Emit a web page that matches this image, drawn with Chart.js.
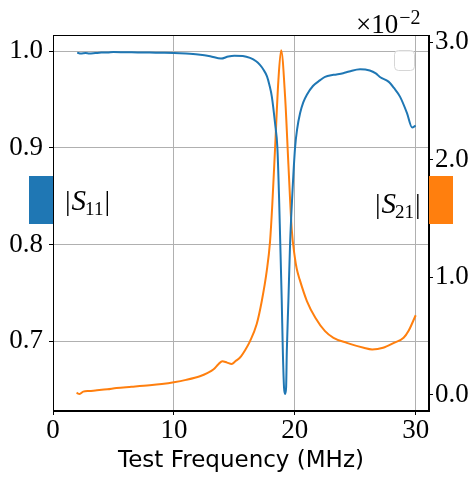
<!DOCTYPE html>
<html><head><meta charset="utf-8">
<script src="https://cdn.jsdelivr.net/npm/chart.js@4"></script>
<style>html,body{margin:0;padding:0;background:#fff;overflow:hidden;}</style>
</head><body>
<canvas id="c" width="473" height="479"></canvas>
<script>
const freqS11 = [2.0,2.3,2.7,3.0,3.5,4.0,4.5,5.0,6.0,7.0,8.0,9.0,10.0,11.0,12.0,13.0,13.9,14.5,15.0,15.7,16.3,16.8,17.1,17.4,17.7,17.9,18.1,18.37,18.56,18.70,18.78,18.92,19.01,19.11,19.20,19.28,19.34,19.47,19.61,19.78,20.02,20.2,20.44,20.7,21.0,21.5,22.1,22.5,23.2,24.0,24.5,25.4,26.2,26.7,27.07,27.75,28.2,28.7,29.28,29.7,30.0];
const s11 = [0.9985,0.9975,0.998,0.9975,0.998,0.9985,0.9985,0.999,0.9988,0.9987,0.9985,0.9984,0.9982,0.9976,0.9966,0.9948,0.9923,0.9945,0.9953,0.9950,0.9930,0.9895,0.986,0.981,0.974,0.965,0.953,0.925,0.900,0.848,0.810,0.742,0.690,0.652,0.6456,0.652,0.690,0.742,0.801,0.848,0.900,0.920,0.936,0.947,0.955,0.964,0.970,0.9735,0.9755,0.9772,0.979,0.9813,0.980,0.977,0.973,0.9685,0.962,0.953,0.936,0.9212,0.923];
const freqS21 = [1.95,2.2,2.5,3.0,3.5,4.5,5.25,6.5,8.0,9.0,10.0,11.0,12.15,12.8,13.26,13.7,14.0,14.4,14.78,15.1,15.47,15.9,16.3,16.85,17.27,17.68,17.95,18.14,18.37,18.64,18.87,19.2,19.47,19.75,20.0,20.16,20.4,21.0,21.7,22.5,23.2,24.3,25.7,26.4,27.3,28.2,29.0,29.4,30.0];
// S21 in units of 1e-2
const s21 = [0.015,0.005,0.025,0.03,0.035,0.045,0.056,0.066,0.079,0.090,0.105,0.125,0.156,0.185,0.213,0.26,0.284,0.272,0.261,0.285,0.315,0.38,0.455,0.60,0.796,1.052,1.30,1.62,2.10,2.67,2.93,2.53,1.96,1.40,1.17,1.07,0.98,0.796,0.654,0.54,0.483,0.44,0.398,0.384,0.398,0.44,0.483,0.54,0.675];
const xTicks = [0,10,20,30];
const leftTicks = [0.7,0.8,0.9,1.0];
const rightTicks = [0,1,2,3];
const xTitle = 'Test Frequency (MHz)';
const blue = '#1f77b4', orange = '#ff7f0e';
const serif = '"Liberation Serif", "DejaVu Serif", serif';

function pts(xs, ys){ return xs.map((x,i)=>({x:x,y:ys[i]})); }

function drawAbsLabel(ctx, x, baseline, sub){
  ctx.save();
  ctx.fillStyle = '#000';
  ctx.textBaseline = 'alphabetic';
  ctx.textAlign = 'left';
  ctx.font = '28px ' + serif;
  ctx.fillText('|', x, baseline);
  let cx = x + ctx.measureText('|').width + 1;
  ctx.font = 'italic 29px ' + serif;
  ctx.fillText('S', cx, baseline);
  cx += ctx.measureText('S').width - 1;
  ctx.font = '19px ' + serif;
  ctx.fillText(sub, cx, baseline + 5);
  cx += ctx.measureText(sub).width + 1;
  ctx.font = '28px ' + serif;
  ctx.fillText('|', cx, baseline);
  ctx.restore();
}

const decor = {
  id: 'decor',
  afterDraw(chart){
    const ctx = chart.ctx, a = chart.chartArea;
    ctx.save();
    ctx.strokeStyle = '#000'; ctx.lineWidth = 1;
    ctx.strokeRect(a.left + 0.5, a.top + 0.5, a.right - a.left - 1, a.bottom - a.top - 1);
    ctx.fillStyle = blue; ctx.fillRect(29, 176, a.left - 29, 48);
    ctx.fillStyle = orange; ctx.fillRect(a.right, 176, 24, 48);
    ctx.beginPath();
    if (ctx.roundRect) ctx.roundRect(394.5, 50.5, 20, 20, 4); else ctx.rect(394.5,50.5,20,20);
    ctx.fillStyle = 'rgba(255,255,255,0.8)'; ctx.fill();
    ctx.strokeStyle = '#d6d6d6'; ctx.stroke();
    ctx.fillStyle = '#000';
    ctx.textBaseline = 'alphabetic'; ctx.textAlign = 'left';
    ctx.font = '27px ' + serif;
    ctx.fillText('\u00d710', 356, 33);
    const w = ctx.measureText('\u00d710').width;
    ctx.font = '20px ' + serif;
    ctx.fillText('\u22122', 356 + w + 1, 24);
    ctx.restore();
    drawAbsLabel(ctx, 65, 210, '11');
    drawAbsLabel(ctx, 375, 213, '21');
  }
};

new Chart(document.getElementById('c'), {
  type: 'line',
  data: {
    datasets: [
      { label: '|S11|', data: pts(freqS11, s11), yAxisID: 'y', borderColor: blue, borderWidth: 2, pointRadius: 0, cubicInterpolationMode: 'monotone', fill: false },
      { label: '|S21|', data: pts(freqS21, s21), yAxisID: 'y2', borderColor: orange, borderWidth: 2, pointRadius: 0, cubicInterpolationMode: 'monotone', fill: false }
    ]
  },
  options: {
    responsive: false, animation: false,
    layout: { padding: { top: 35, left: 0, right: 0, bottom: 0 } },
    plugins: { legend: { display: false }, tooltip: { enabled: false } },
    scales: {
      x: {
        type: 'linear', position: 'bottom', min: 0, max: 31.1,
        afterBuildTicks: s => { s.ticks = xTicks.map(v => ({ value: v })); },
        afterFit: s => { s.height = 68; },
        ticks: { color: '#000', font: { family: serif, size: 27 }, padding: 0, maxRotation: 0, callback: v => String(v) },
        grid: { color: '#b0b0b0', lineWidth: 1, tickColor: '#000', tickLength: 4 },
        border: { color: '#000', width: 1 },
        title: { display: true, text: xTitle, color: '#000', font: { family: '"DejaVu Sans", sans-serif', size: 23 }, padding: { top: 0, bottom: 4 } }
      },
      y: {
        type: 'linear', position: 'left', min: 0.628, max: 1.0167,
        afterBuildTicks: s => { s.ticks = leftTicks.map(v => ({ value: v })); },
        afterFit: s => { s.width = 53; },
        ticks: { color: '#000', font: { family: serif, size: 27 }, padding: 6, callback: v => v.toFixed(1) },
        grid: { color: '#b0b0b0', lineWidth: 1, tickColor: '#000', tickLength: 4 },
        border: { color: '#000', width: 1 }
      },
      y2: {
        type: 'linear', position: 'right', min: -0.14, max: 3.06,
        afterBuildTicks: s => { s.ticks = rightTicks.map(v => ({ value: v })); },
        afterFit: s => { s.width = 44; },
        ticks: { color: '#000', font: { family: serif, size: 27 }, padding: 2, callback: v => v.toFixed(1) },
        grid: { drawOnChartArea: false, tickColor: '#000', tickLength: 4 },
        border: { color: '#000', width: 1 }
      }
    }
  },
  plugins: [decor]
});
</script>
</body></html>
